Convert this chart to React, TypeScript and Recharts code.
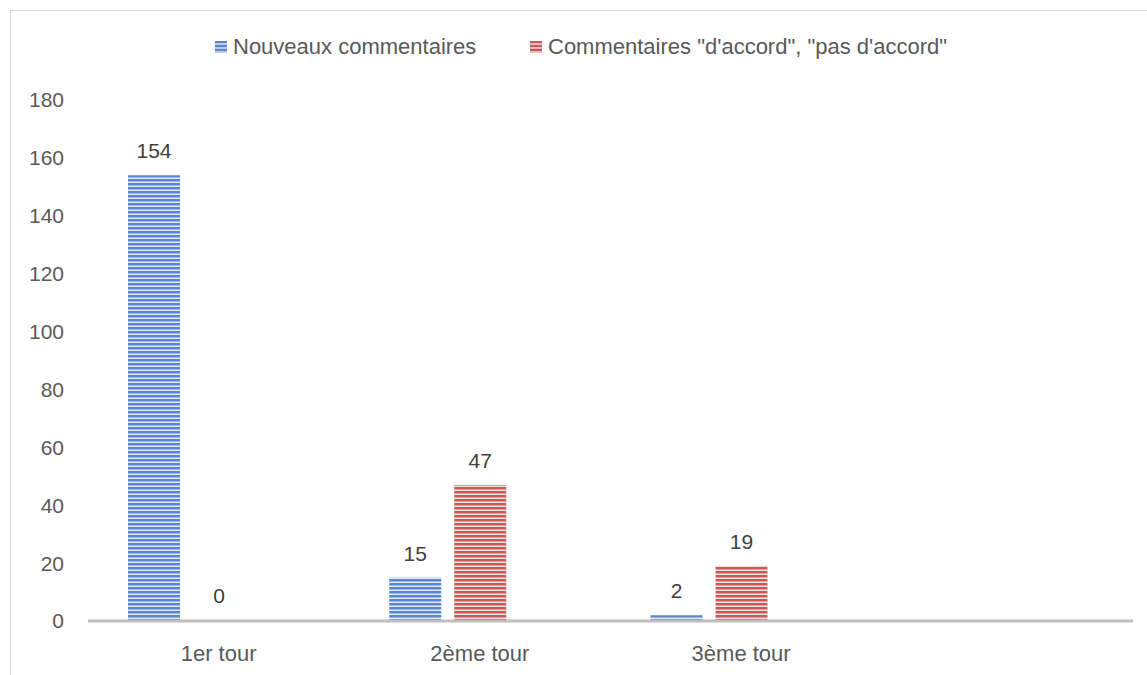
import React from 'react'
import { BarChart, Bar, XAxis, YAxis, Legend, LabelList } from 'recharts'

const categories = ['1er tour', '2ème tour', '3ème tour', '']
const nouveaux = [154, 15, 2, null]
const accord = [0, 47, 19, null]
const vide = [null, null, null, null]
const yTicks = [0, 20, 40, 60, 80, 100, 120, 140, 160, 180]

const seriesNames = ['Nouveaux commentaires', 'Commentaires "d\'accord", "pas d\'accord"']

const data = categories.map((cat, i) => ({
  cat,
  nouveaux: nouveaux[i],
  accord: accord[i],
  vide: vide[i],
}))

const FONT = '"Liberation Sans", Arial, sans-serif'
const TEXT = '#595959'

const renderLabel = (props: any) => {
  const { x, y, width, value } = props
  if (value === null || value === undefined) return null
  return (
    <text x={x + width / 2} y={y - 17} textAnchor="middle" fill="#404040" fontSize={21} fontFamily={FONT}>
      {value}
    </text>
  )
}

function StripeIcon({ dark, light }: { dark: string; light: string }) {
  return (
    <svg width={12} height={12} style={{ display: 'block' }}>
      <rect width={12} height={12} fill={light} />
      {[0, 4, 8].map((y) => (
        <rect key={y} y={y} width={12} height={2} fill={dark} />
      ))}
    </svg>
  )
}

function LegendContent() {
  const items = [
    { name: seriesNames[0], dark: '#5b86cb', light: '#b9cbea', left: 204 },
    { name: seriesNames[1], dark: '#c9595a', light: '#eebcbc', left: 519 },
  ]
  return (
    <div style={{ position: 'relative', height: 70, width: 1136 }}>
      {items.map((it) => (
        <div
          key={it.name}
          style={{
            position: 'absolute',
            left: it.left,
            top: 5,
            height: 24,
            display: 'flex',
            alignItems: 'center',
            gap: 6,
            whiteSpace: 'nowrap',
            fontFamily: FONT,
            fontSize: 22,
            color: TEXT,
          }}
        >
          <StripeIcon dark={it.dark} light={it.light} />
          <span>{it.name}</span>
        </div>
      ))}
    </div>
  )
}

export default function App() {
  return (
    <div
      style={{
        position: 'absolute',
        left: 10,
        top: 10,
        width: 1136,
        height: 664,
        borderLeft: '1px solid #d9d9d9',
        borderTop: '1px solid #d9d9d9',
        background: '#fff',
      }}
    >
      <BarChart
        width={1136}
        height={664}
        data={data}
        margin={{ top: 19, right: 14, bottom: 14, left: 0 }}
        barSize={52}
        barGap={13}
      >
        <defs>
          <pattern id="blueStripes" width={4} height={4} patternUnits="userSpaceOnUse">
            <rect width={4} height={4} fill="#e3eaf6" />
            <rect y={0} width={4} height={2} fill="#5b86cb" />
            <rect y={2} width={4} height={1} fill="#9db6e0" />
          </pattern>
          <pattern id="redStripes" width={4} height={4} patternUnits="userSpaceOnUse">
            <rect width={4} height={4} fill="#f6dede" />
            <rect y={0} width={4} height={2} fill="#c9595a" />
            <rect y={2} width={4} height={1} fill="#e49a9a" />
          </pattern>
        </defs>
        <Legend
          verticalAlign="top"
          content={() => <LegendContent />}
          wrapperStyle={{ left: 0, top: 19, width: 1136, height: 70 }}
        />
        <XAxis
          dataKey="cat"
          height={40}
          axisLine={{ stroke: '#bfbfbf', strokeWidth: 3 }}
          tickLine={false}
          tickMargin={18}
          tick={{ fill: TEXT, fontSize: 22, fontFamily: FONT }}
          interval={0}
        />
        <YAxis
          width={77}
          domain={[0, 180]}
          ticks={yTicks}
          axisLine={false}
          tickLine={false}
          tickSize={0}
          tickMargin={24}
          tick={{ fill: TEXT, fontSize: 21, fontFamily: FONT }}
        />
        <Bar dataKey="nouveaux" name={seriesNames[0]} fill="url(#blueStripes)" isAnimationActive={false}>
          <LabelList dataKey="nouveaux" content={renderLabel} />
        </Bar>
        <Bar
          dataKey="accord"
          name={seriesNames[1]}
          fill="url(#redStripes)"
          minPointSize={1}
          isAnimationActive={false}
        >
          <LabelList dataKey="accord" content={renderLabel} />
        </Bar>
        <Bar dataKey="vide" name="" fill="#a5a5a5" isAnimationActive={false} legendType="none" />
      </BarChart>
    </div>
  )
}
